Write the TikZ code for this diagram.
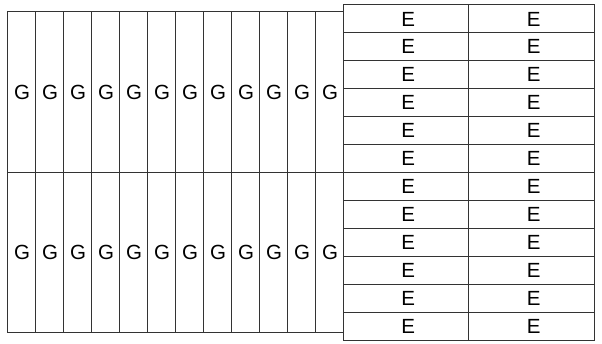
\documentclass[tikz,border=0pt]{standalone}
\usepackage{fontspec}
\setmainfont{Liberation Sans}
\begin{document}
\begin{tikzpicture}[x=1pt,y=-1pt,
  cell/.style={draw=black!80,line width=1pt,inner sep=0pt,outer sep=0pt,font=\fontsize{20.5}{22}\selectfont},
  gcell/.style={cell,minimum width=28pt,minimum height=160.5pt},
  ecell/.style={cell,minimum width=125.5pt,minimum height=27.917pt}]
\useasboundingbox (0,0) rectangle (602,344);
\foreach \r in {0,1}{
  \foreach \c in {0,...,11}{
    \node[gcell] (g-\r-\c) at ({21+28*\c},{92.25+160.5*\r}) {\hspace*{2pt}G};
  }
}
\foreach \r in {0,...,11}{
  \foreach \c in {0,1}{
    \node[ecell] (e-\r-\c) at ({405.75+125.5*\c},{18.96+27.917*\r}) {\hspace*{5pt}E};
  }
}
\end{tikzpicture}
\end{document}
